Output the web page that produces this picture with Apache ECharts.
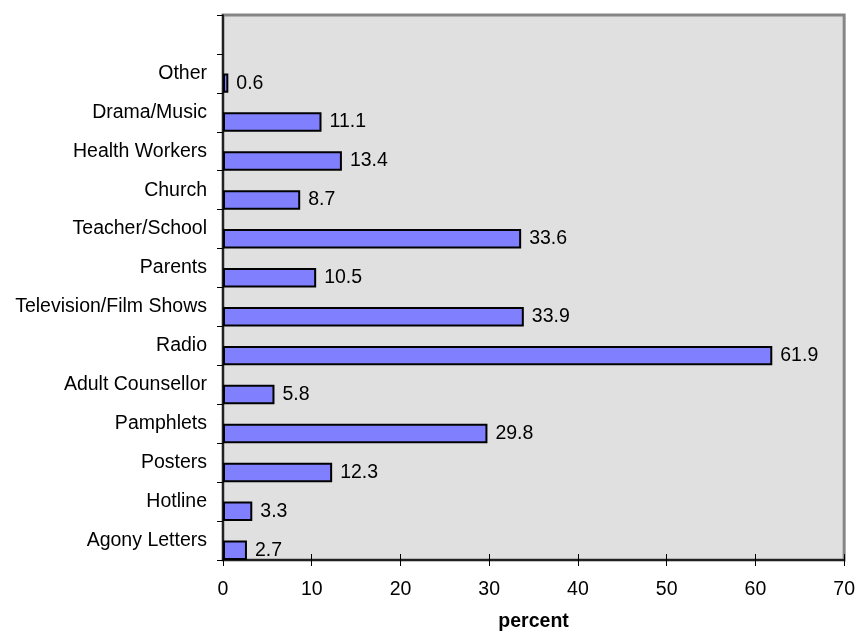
<!DOCTYPE html>
<html>
<head>
<meta charset="utf-8">
<script src="https://cdn.jsdelivr.net/npm/echarts@6/dist/echarts.min.js"></script>
<style>
  html, body { margin: 0; padding: 0; background: #ffffff; }
  #chart { width: 858px; height: 637px; }
</style>
</head>
<body>
<div id="chart"></div>
<script>
// Sources of information, bottom to top; the last slot is left empty.
const categories = [
  'Agony Letters', 'Hotline', 'Posters', 'Pamphlets', 'Adult Counsellor',
  'Radio', 'Television/Film Shows', 'Parents', 'Teacher/School', 'Church',
  'Health Workers', 'Drama/Music', 'Other', ''
];
const percentValues = [2.7, 3.3, 12.3, 29.8, 5.8, 61.9, 33.9, 10.5, 33.6, 8.7, 13.4, 11.1, 0.6, null];
const emptyValues = categories.map(() => null);
const xTicks = { min: 0, max: 70, interval: 10 };

const font = 'Arial, "Liberation Sans", sans-serif';

const chart = echarts.init(document.getElementById('chart'), null, { renderer: 'canvas' });

chart.setOption({
  backgroundColor: '#ffffff',
  animation: false,
  grid: {
    left: 223, right: 11, top: 15, bottom: 74,
    show: true,
    backgroundColor: '#e0e0e0',
    borderColor: '#868686',
    borderWidth: 3
  },
  xAxis: [
    {
      type: 'value',
      position: 'bottom',
      min: xTicks.min, max: xTicks.max, interval: xTicks.interval,
      name: 'percent',
      nameLocation: 'middle',
      nameGap: 52,
      nameTextStyle: { fontFamily: font, fontSize: 19.5, fontWeight: 'bold', color: '#000' },
      axisLine: { show: true, lineStyle: { color: '#000', width: 1.5 } },
      axisTick: { show: true, length: 6, lineStyle: { color: '#000', width: 1 } },
      axisLabel: { fontFamily: font, fontSize: 19.5, color: '#000', margin: 20 },
      splitLine: { show: false }
    },
    {
      type: 'value',
      position: 'bottom',
      min: xTicks.min, max: xTicks.max, interval: xTicks.interval,
      axisLine: { show: false },
      axisTick: { show: true, inside: true, length: 6, lineStyle: { color: '#000', width: 1 } },
      axisLabel: { show: false },
      splitLine: { show: false }
    }
  ],
  yAxis: {
    type: 'category',
    data: categories,
    axisLine: { show: true, lineStyle: { color: '#000', width: 1.5 } },
    axisTick: { show: true, length: 6, lineStyle: { color: '#000', width: 1 } },
    axisLabel: { fontFamily: font, fontSize: 19.5, color: '#000', margin: 16 },
    splitLine: { show: false }
  },
  series: [
    {
      name: 'spacer',
      type: 'bar',
      data: emptyValues,
      barGap: '0%',
      barCategoryGap: '0%',
      itemStyle: { color: 'transparent' }
    },
    {
      name: 'percent',
      type: 'bar',
      data: percentValues,
      barGap: '0%',
      barCategoryGap: '0%',
      itemStyle: { color: '#8080ff', borderColor: '#000', borderWidth: 2 },
      label: {
        show: true,
        position: 'right',
        distance: 8,
        fontFamily: font,
        fontSize: 19.5,
        color: '#000',
        formatter: p => p.value.toFixed(1)
      }
    }
  ]
});
</script>
</body>
</html>
